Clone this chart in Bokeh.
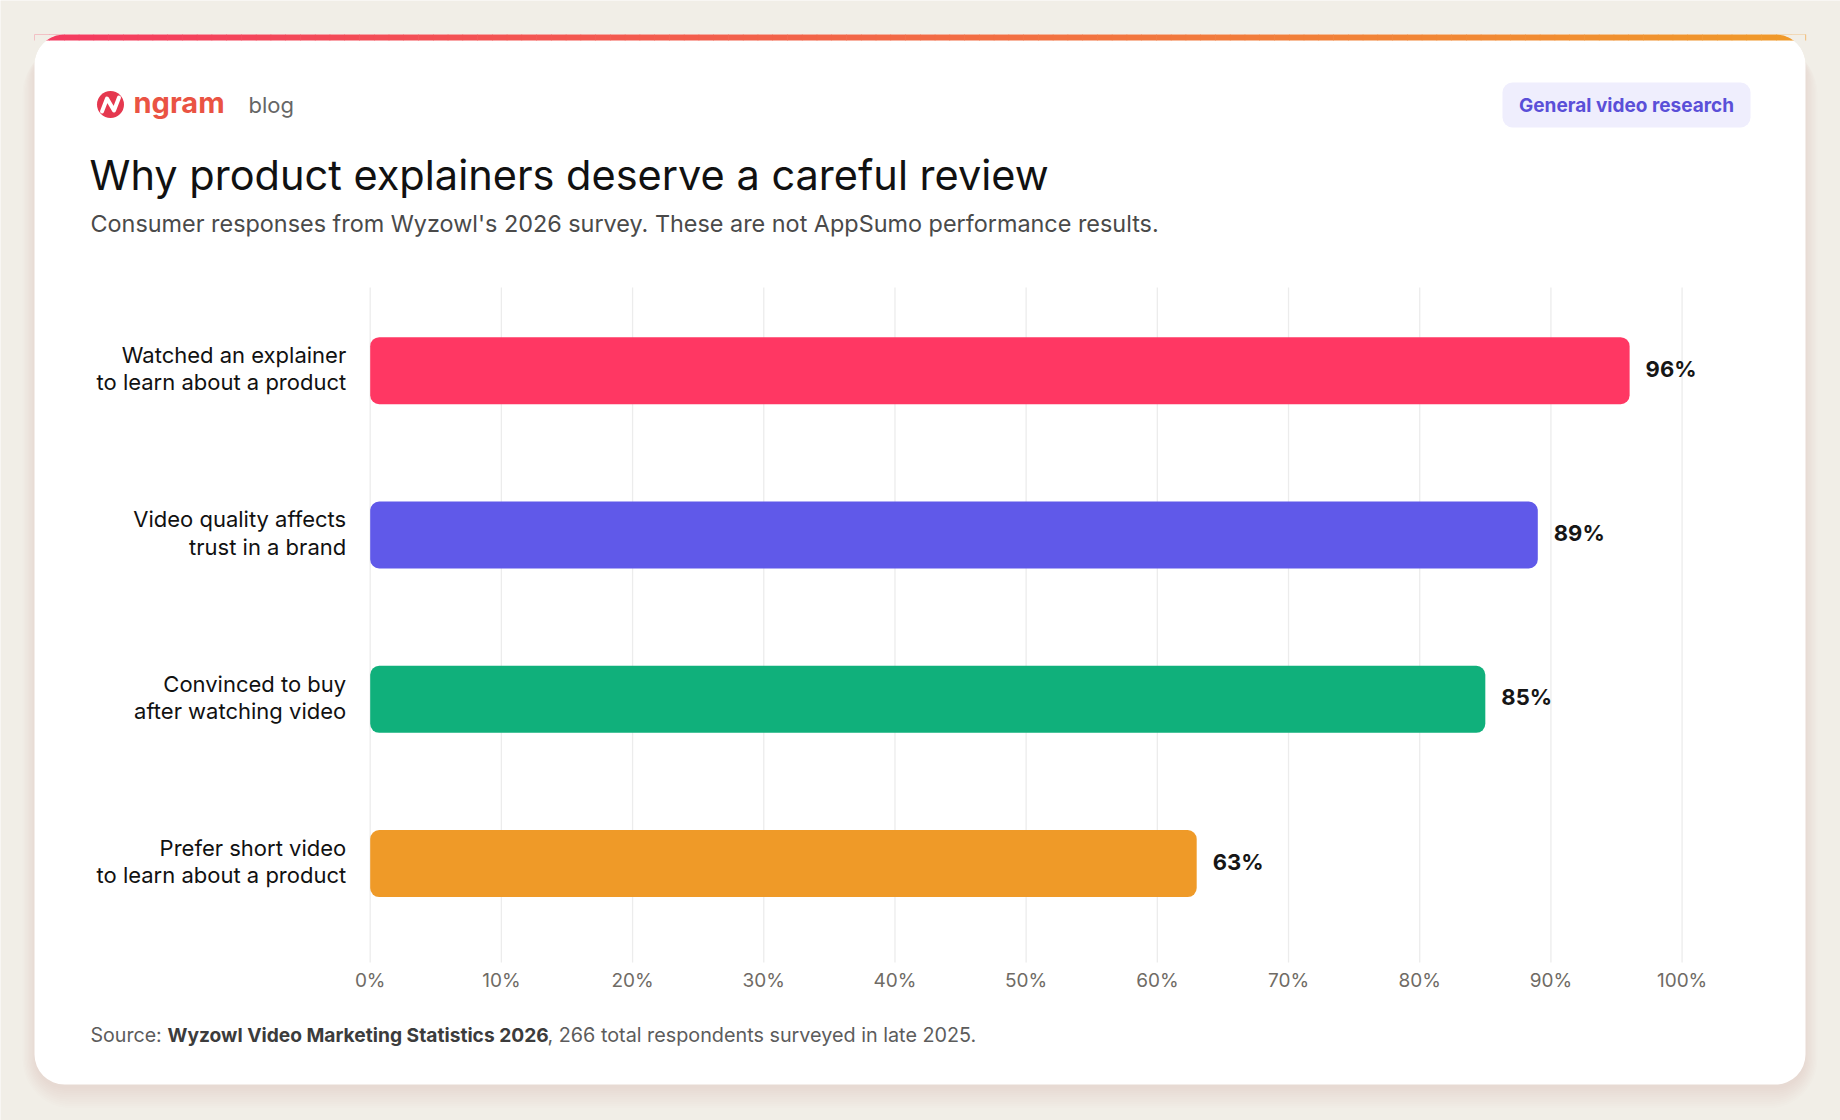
from bokeh.plotting import figure
from bokeh.models import Range1d, BoxAnnotation, Label, ColumnDataSource
from bokeh.core.properties import value
from bokeh.embed import file_html
from bokeh.resources import INLINE
import numpy as np

# ---- data ----
categories = [
    "Watched an explainer\nto learn about a product",
    "Video quality affects\ntrust in a brand",
    "Convinced to buy\nafter watching video",
    "Prefer short video\nto learn about a product",
]
shares = [96, 89, 85, 63]
bar_colors = ["#ff3763", "#6059e9", "#10b07b", "#ef9a28"]
tick_values = [0, 10, 20, 30, 40, 50, 60, 70, 80, 90, 100]
tick_labels = ["0%", "10%", "20%", "30%", "40%", "50%", "60%", "70%", "80%", "90%", "100%"]

# ---- layout (pixels, measured from the top-left of the page) ----
W, H = 1840, 1120
FONT = "Inter"
BG = "#f1eee7"
CARD_L, CARD_R, CARD_T, CARD_B, CARD_RAD = 34, 1805, 34, 1084, 30
X0_PX, X100_PX = 369.7, 1681.6          # where 0% and 100% sit
ROW0_PX, ROW_STEP = 370.2, 164.3         # centre of first bar, spacing of bars
GRID_T, GRID_B = 287, 962


def Y(top):
    """convert a distance from the top of the page into the default y range"""
    return H - top


p = figure(
    width=W, height=H,
    x_range=Range1d(0, W), y_range=Range1d(0, H),
    x_axis_location=None, y_axis_location=None,
    output_backend="svg", toolbar_location=None,
    min_border=0, outline_line_color=None,
    background_fill_color=BG, border_fill_color=BG,
)
p.grid.visible = False

# percentage scale for the bars and a row scale for the categories
px_per_pct = (X100_PX - X0_PX) / 100.0
p.extra_x_ranges = {"pct": Range1d(-X0_PX / px_per_pct, (W - X0_PX) / px_per_pct)}
p.extra_y_ranges = {"row": Range1d(-(H - ROW0_PX) / ROW_STEP, ROW0_PX / ROW_STEP)}

# ---- card with soft shadow ----
for k in range(10):
    s = k * 2.2
    p.add_layout(BoxAnnotation(
        left=CARD_L - s * 0.6, right=CARD_R + s * 0.6,
        top=Y(CARD_T + 10), bottom=Y(CARD_B + 4 + s),
        fill_color="#8c7d5c", fill_alpha=0.012, line_color=None,
        border_radius=CARD_RAD + int(s), level="underlay"))
p.add_layout(BoxAnnotation(
    left=CARD_L, right=CARD_R, top=Y(CARD_T), bottom=Y(CARD_B),
    fill_color="white", fill_alpha=1, line_color=None,
    border_radius=CARD_RAD, level="underlay"))

# badge in the top-right corner
p.add_layout(BoxAnnotation(
    left=1502, right=1750, top=Y(82), bottom=Y(127),
    fill_color="#efeefd", fill_alpha=1, line_color=None,
    border_radius=10, level="underlay"))

# gradient strip across the top of the card
n_sl = 120
edges = np.linspace(CARD_L, CARD_R, n_sl + 1)
c0 = np.array([0xf4, 0x3a, 0x60])
c1 = np.array([0xf0, 0x9a, 0x2a])
strip_cols = []
for t in np.linspace(0, 1, n_sl):
    r, g, b = (c0 + (c1 - c0) * t).round().astype(int)
    strip_cols.append(f"#{r:02x}{g:02x}{b:02x}")
p.quad(left=edges[:-1], right=edges[1:] + 0.6, top=Y(CARD_T), bottom=Y(CARD_T + 6),
       fill_color=strip_cols, line_color=None)

# round off the strip at the two upper corners
ang = np.linspace(0, np.pi / 2, 30)
tl_x = [CARD_L, CARD_L + CARD_RAD] + list(CARD_L + CARD_RAD - CARD_RAD * np.sin(ang)) + [CARD_L]
tl_y = [Y(CARD_T), Y(CARD_T)] + list(Y(CARD_T + CARD_RAD - CARD_RAD * np.cos(ang))) + [Y(CARD_T + CARD_RAD)]
tr_x = [CARD_R, CARD_R - CARD_RAD] + list(CARD_R - CARD_RAD + CARD_RAD * np.sin(ang)) + [CARD_R]
p.patches(xs=[tl_x, tr_x], ys=[tl_y, tl_y], fill_color=BG, line_color=None)

# ---- chart ----
tick_src = ColumnDataSource(dict(tick=tick_values, lab=tick_labels))
p.segment(x0="tick", x1="tick", y0=Y(GRID_T), y1=Y(GRID_B), source=tick_src,
          line_color="#ececec", line_width=1.3, x_range_name="pct")
p.text(x="tick", y=Y(980), text="lab", source=tick_src, x_range_name="pct",
       text_font=value(FONT), text_font_size="19px", text_color="#6f6b65",
       text_align="center", text_baseline="middle")

rank = np.arange(len(categories))
src = ColumnDataSource(dict(
    y=-rank, share=shares, color=bar_colors, cat=categories,
    lab=[f"{v}%" for v in shares],
))
p.hbar(y="y", left=0, right="share", height=67 / ROW_STEP, source=src,
       fill_color="color", line_color=None, border_radius=9,
       x_range_name="pct", y_range_name="row")
p.text(x="share", y="y", text="lab", source=src, x_offset=16, y_offset=-2,
       text_font=value(FONT), text_font_style="bold", text_font_size="22px",
       text_color="#161616", text_baseline="middle",
       x_range_name="pct", y_range_name="row")
p.text(x=0, y="y", text="cat", source=src, x_offset=-24, y_offset=-2,
       text_font=value(FONT), text_font_size="22px", text_color="#111111",
       text_align="right", text_baseline="middle", text_line_height=1.04,
       x_range_name="pct", y_range_name="row")

# ---- header ----
p.circle(x=[110], y=[Y(104)], radius=13.5, fill_color="#e5384f", line_color=None)
p.line(x=[101.5, 106.5, 113.5, 118.5], y=[Y(111), Y(98), Y(110), Y(97)],
       line_color="white", line_width=4, line_join="round", line_cap="round")
p.add_layout(Label(x=133, y=Y(102), text="ngram", text_font=FONT, text_font_style="bold",
                   text_font_size="29px", text_color="#ea5343", text_baseline="middle"))
p.add_layout(Label(x=248, y=Y(104), text="blog", text_font=FONT,
                   text_font_size="22px", text_color="#666666", text_baseline="middle"))
p.add_layout(Label(x=1626, y=Y(105), text="General video research", text_font=FONT,
                   text_font_style="bold", text_font_size="19px", text_color="#5a4fd8",
                   text_align="center", text_baseline="middle"))

p.add_layout(Label(x=89, y=Y(174), text="Why product explainers deserve a careful review",
                   text_font=FONT, text_font_size="41.5px", text_color="#111111",
                   text_baseline="middle"))
p.add_layout(Label(x=90, y=Y(223),
                   text="Consumer responses from Wyzowl's 2026 survey. These are not AppSumo performance results.",
                   text_font=FONT, text_font_size="23.4px", text_color="#4a4a4a",
                   text_baseline="middle"))

# ---- source line ----
p.add_layout(Label(x=90, y=Y(1034), text="Source:", text_font=FONT,
                   text_font_size="19.6px", text_color="#5c5c5c", text_baseline="middle"))
p.add_layout(Label(x=167, y=Y(1034), text="Wyzowl Video Marketing Statistics 2026", text_font=FONT,
                   text_font_style="bold", text_font_size="19.2px", text_color="#3c3c3c",
                   text_baseline="middle"))
p.add_layout(Label(x=547, y=Y(1034), text=", 266 total respondents surveyed in late 2025.",
                   text_font=FONT, text_font_size="19.8px", text_color="#5c5c5c",
                   text_baseline="middle"))

open("out.html", "w").write(file_html(p, INLINE))
